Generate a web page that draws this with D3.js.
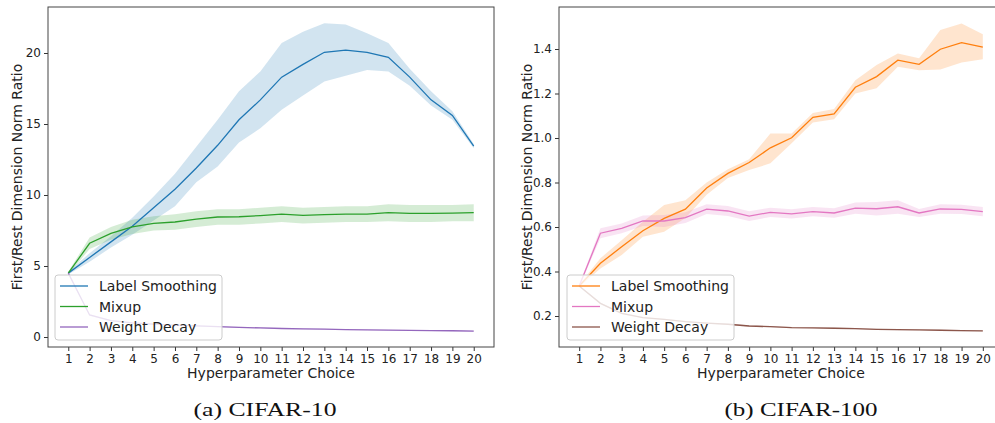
<!DOCTYPE html>
<html>
<head>
<meta charset="utf-8">
<script src="https://cdn.jsdelivr.net/npm/d3@7"></script>
<style>
  body { margin: 0; background: #fff; }
  svg { display: block; }
  .tick text { font-family: "DejaVu Sans", sans-serif; font-size: 12px; fill: #222; }
  .tick line { stroke: #333; }
  .lbl { font-family: "DejaVu Sans", sans-serif; font-size: 14px; fill: #222; }
  .cap { font-family: "Liberation Serif", serif; font-size: 19px; fill: #111; }
</style>
</head>
<body>
<svg id="fig" width="995" height="423"></svg>
<script>
// hyperparameter choices along x
const choices = d3.range(1, 21);
const seriesNames = ['Label Smoothing', 'Mixup', 'Weight Decay'];

// CIFAR-10
const ls10 = [4.5, 5.6, 6.7, 7.8, 9.1, 10.4, 11.9, 13.5, 15.3, 16.7, 18.3, 19.2, 20.05, 20.2, 20.05, 19.7, 18.3, 16.7, 15.6, 13.45];
const ls10Lo = [4.4, 5.3, 6.3, 7.2, 8.2, 9.2, 10.9, 12.0, 13.7, 14.7, 16.0, 17.0, 18.0, 18.4, 18.8, 18.7, 17.7, 16.3, 15.3, 13.3];
const ls10Hi = [4.6, 5.9, 7.1, 8.4, 9.9, 11.5, 13.4, 15.3, 17.3, 18.7, 20.7, 21.5, 22.1, 22.0, 21.4, 20.7, 18.9, 17.3, 15.9, 13.6];
const mix10 = [4.5, 6.6, 7.3, 7.75, 8.0, 8.1, 8.3, 8.45, 8.47, 8.55, 8.65, 8.57, 8.62, 8.65, 8.65, 8.76, 8.7, 8.7, 8.73, 8.76];
const mix10Lo = [4.4, 6.2, 6.85, 7.25, 7.5, 7.55, 7.75, 7.9, 7.9, 8.0, 8.1, 8.0, 8.05, 8.1, 8.1, 8.15, 8.1, 8.1, 8.15, 8.15];
const mix10Hi = [4.6, 7.0, 7.75, 8.25, 8.5, 8.65, 8.85, 9.0, 9.0, 9.1, 9.2, 9.1, 9.15, 9.2, 9.2, 9.35, 9.3, 9.3, 9.3, 9.35];
const wd10 = [4.5, 1.55, 1.15, 1.0, 0.9, 0.84, 0.78, 0.73, 0.68, 0.64, 0.6, 0.57, 0.55, 0.52, 0.5, 0.48, 0.47, 0.45, 0.44, 0.42];
const wd10Lo = [4.45, 1.5, 1.1, 0.96, 0.86, 0.8, 0.74, 0.69, 0.64, 0.6, 0.56, 0.53, 0.51, 0.49, 0.47, 0.45, 0.44, 0.42, 0.41, 0.39];
const wd10Hi = [4.55, 1.6, 1.2, 1.04, 0.94, 0.88, 0.82, 0.77, 0.72, 0.68, 0.64, 0.61, 0.59, 0.55, 0.53, 0.51, 0.5, 0.48, 0.47, 0.45];
const yTicks10 = [0, 5, 10, 15, 20];

// CIFAR-100
const ls100 = [0.335, 0.437, 0.511, 0.583, 0.639, 0.68, 0.775, 0.841, 0.89, 0.956, 1.001, 1.093, 1.108, 1.228, 1.276, 1.35, 1.331, 1.399, 1.429, 1.408];
const ls100Lo = [0.33, 0.414, 0.474, 0.556, 0.579, 0.64, 0.745, 0.82, 0.856, 0.886, 0.976, 1.07, 1.084, 1.2, 1.224, 1.32, 1.304, 1.308, 1.339, 1.354];
const ls100Hi = [0.34, 0.46, 0.54, 0.624, 0.699, 0.72, 0.8, 0.86, 0.904, 1.02, 1.02, 1.112, 1.13, 1.26, 1.328, 1.38, 1.358, 1.485, 1.515, 1.466];
const mix100 = [0.335, 0.572, 0.594, 0.628, 0.627, 0.642, 0.68, 0.672, 0.649, 0.666, 0.659, 0.669, 0.663, 0.685, 0.682, 0.691, 0.663, 0.681, 0.679, 0.669];
const mix100Lo = [0.33, 0.55, 0.572, 0.604, 0.6, 0.618, 0.658, 0.65, 0.627, 0.645, 0.638, 0.648, 0.642, 0.66, 0.652, 0.66, 0.645, 0.66, 0.658, 0.648];
const mix100Hi = [0.34, 0.594, 0.616, 0.652, 0.654, 0.666, 0.702, 0.694, 0.671, 0.687, 0.68, 0.69, 0.684, 0.71, 0.712, 0.72, 0.681, 0.702, 0.7, 0.69];
const wd100 = [0.335, 0.257, 0.212, 0.193, 0.185, 0.175, 0.168, 0.163, 0.155, 0.152, 0.148, 0.147, 0.145, 0.143, 0.14, 0.139, 0.138, 0.136, 0.134, 0.133];
const wd100Lo = [0.332, 0.253, 0.208, 0.19, 0.182, 0.172, 0.165, 0.16, 0.152, 0.149, 0.145, 0.144, 0.142, 0.14, 0.137, 0.136, 0.135, 0.133, 0.131, 0.13];
const wd100Hi = [0.338, 0.261, 0.216, 0.196, 0.188, 0.178, 0.171, 0.166, 0.158, 0.155, 0.151, 0.15, 0.148, 0.146, 0.143, 0.142, 0.141, 0.139, 0.137, 0.136];
const yTicks100 = [0.2, 0.4, 0.6, 0.8, 1.0, 1.2, 1.4];

const svg = d3.select('#fig');

const panels = [
  {
    left: 48, right: 494, yDomain: [-0.704, 23.24], yTicks: yTicks10, fmt: d3.format('d'),
    yLabelX: 17, legendX: 55, caption: '(a) CIFAR-10', captionX: 265,
    colors: ['#1f77b4', '#2ca02c', '#9467bd'],
    series: [[ls10, ls10Lo, ls10Hi], [mix10, mix10Lo, mix10Hi], [wd10, wd10Lo, wd10Hi]]
  },
  {
    left: 559, right: 1003, yDomain: [0.0607, 1.5888], yTicks: yTicks100, fmt: d3.format('.1f'),
    yLabelX: 527, legendX: 567, caption: '(b) CIFAR-100', captionX: 801,
    colors: ['#ff7f0e', '#e377c2', '#8c564b'],
    series: [[ls100, ls100Lo, ls100Hi], [mix100, mix100Lo, mix100Hi], [wd100, wd100Lo, wd100Hi]]
  }
];

const plotTop = 7, plotBottom = 347;

panels.forEach((p, pi) => {
  const g = svg.append('g');
  const x = d3.scaleLinear().domain([0.05, 20.95]).range([p.left, p.right]);
  const y = d3.scaleLinear().domain(p.yDomain).range([plotBottom, plotTop]);

  const clipId = 'clip' + pi;
  svg.append('clipPath').attr('id', clipId)
    .append('rect').attr('x', p.left).attr('y', plotTop)
    .attr('width', p.right - p.left).attr('height', plotBottom - plotTop);

  const plot = g.append('g').attr('clip-path', `url(#${clipId})`);

  const area = d3.area()
    .x((d) => x(d.c))
    .y0((d) => y(d.lo))
    .y1((d) => y(d.hi));
  const line = d3.line()
    .x((d) => x(d.c))
    .y((d) => y(d.v));

  p.series.forEach(([mean, lo, hi], si) => {
    const rows = choices.map((c, i) => ({ c, v: mean[i], lo: lo[i], hi: hi[i] }));
    plot.append('path').datum(rows)
      .attr('d', area)
      .attr('fill', p.colors[si])
      .attr('fill-opacity', 0.2);
  });
  p.series.forEach(([mean], si) => {
    const rows = choices.map((c, i) => ({ c, v: mean[i] }));
    plot.append('path').datum(rows)
      .attr('d', line)
      .attr('fill', 'none')
      .attr('stroke', p.colors[si])
      .attr('stroke-width', 1.3);
  });

  // axes
  const xAxis = g.append('g')
    .attr('transform', `translate(0,${plotBottom})`)
    .call(d3.axisBottom(x).tickValues(choices).tickSize(4).tickPadding(3).tickFormat(d3.format('d')));
  xAxis.select('.domain').remove();

  const yAxis = g.append('g')
    .attr('transform', `translate(${p.left},0)`)
    .call(d3.axisLeft(y).tickValues(p.yTicks).tickSize(4).tickPadding(3).tickFormat(p.fmt));
  yAxis.select('.domain').remove();

  g.append('rect')
    .attr('x', p.left).attr('y', plotTop)
    .attr('width', p.right - p.left).attr('height', plotBottom - plotTop)
    .attr('fill', 'none').attr('stroke', '#444').attr('stroke-width', 1);

  g.append('text').attr('class', 'lbl')
    .attr('x', (p.left + p.right) / 2).attr('y', 378)
    .attr('text-anchor', 'middle')
    .text('Hyperparameter Choice');

  g.append('text').attr('class', 'lbl')
    .attr('transform', `translate(${p.yLabelX + 5},${(plotTop + plotBottom) / 2}) rotate(-90)`)
    .attr('text-anchor', 'middle')
    .text('First/Rest Dimension Norm Ratio');

  // legend
  const lg = g.append('g').attr('transform', `translate(${p.legendX},275)`);
  lg.append('rect')
    .attr('width', 167).attr('height', 65).attr('rx', 3)
    .attr('fill', '#fff').attr('fill-opacity', 0.8)
    .attr('stroke', '#ccc');
  seriesNames.forEach((name, i) => {
    const ly = 11 + i * 20.5;
    lg.append('line')
      .attr('x1', 5).attr('x2', 33).attr('y1', ly).attr('y2', ly)
      .attr('stroke', p.colors[i]).attr('stroke-width', 1.3);
    lg.append('text').attr('class', 'lbl')
      .attr('x', 44).attr('y', ly + 5)
      .text(name);
  });

  svg.append('text').attr('class', 'cap')
    .attr('x', p.captionX).attr('y', 416)
    .attr('text-anchor', 'middle')
    .attr('textLength', pi === 0 ? 143 : 153)
    .attr('lengthAdjust', 'spacingAndGlyphs')
    .text(p.caption);
});
</script>
</body>
</html>
